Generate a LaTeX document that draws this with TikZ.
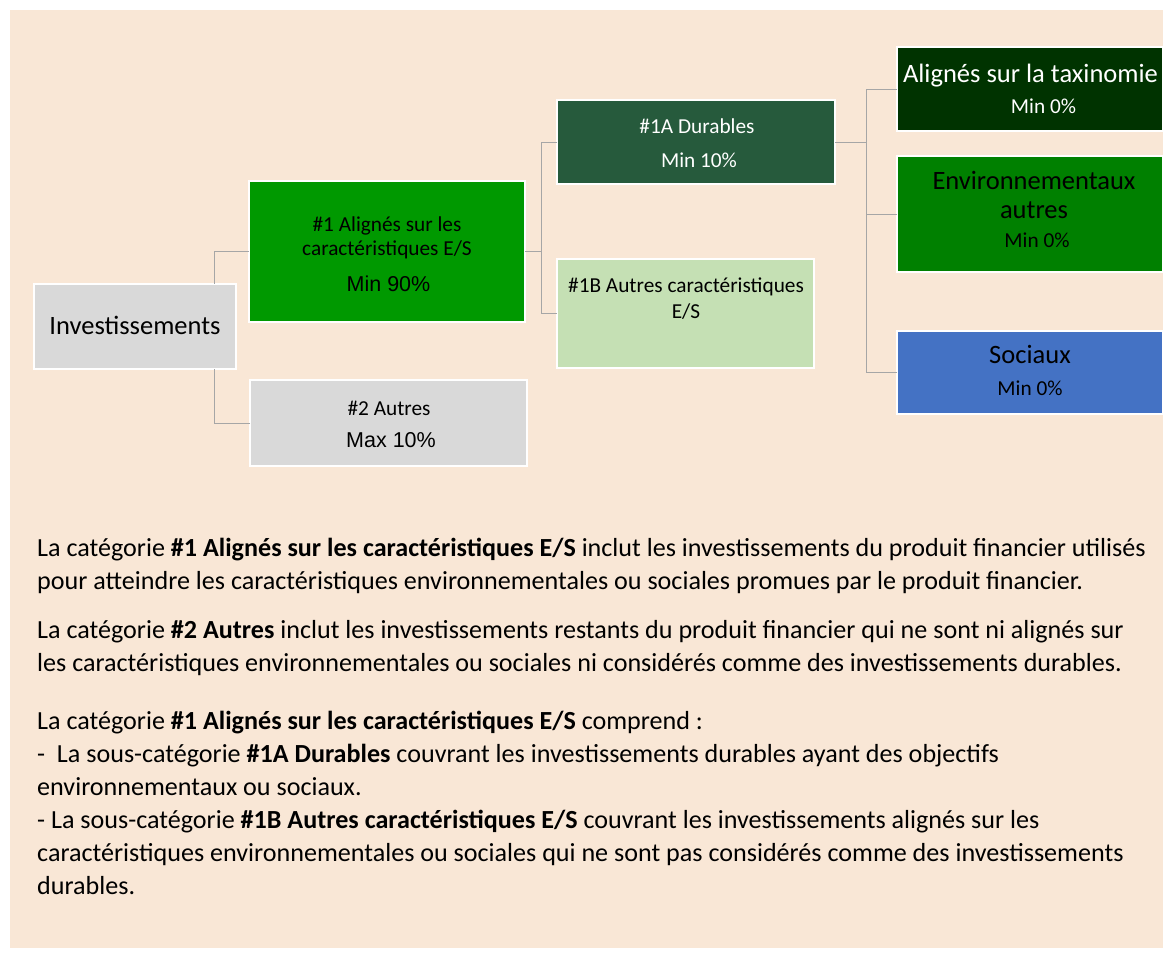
\documentclass[tikz,border=0pt]{standalone}
\usepackage{fontspec}
\setmainfont{Carlito}
\newfontfamily\arialf{Liberation Sans}
\definecolor{bg}{HTML}{F9E7D6}
\definecolor{grayb}{HTML}{D9D9D9}
\definecolor{greenA}{HTML}{009900}
\definecolor{darkg}{HTML}{265A3C}
\definecolor{lightg}{HTML}{C5E0B4}
\definecolor{vdark}{HTML}{003300}
\definecolor{envg}{HTML}{008000}
\definecolor{socb}{HTML}{4472C4}
\definecolor{connc}{HTML}{A6A6A6}
\begin{document}
\begin{tikzpicture}[x=1pt,y=-1pt,
  box/.style={draw=white,line width=2.5pt,rectangle,inner sep=0pt,outer sep=0pt},
  conn/.style={draw=connc,line width=1pt},
  lbl/.style={inner sep=0pt,anchor=base,font=\fontsize{21.3}{25}\selectfont},
  big/.style={inner sep=0pt,anchor=base,font=\fontsize{26.5}{32}\selectfont},
  pct/.style={inner sep=0pt,anchor=base,font=\arialf\fontsize{21.5}{25}\selectfont},
  para/.style={inner sep=0pt,anchor=base west,align=left,font=\fontsize{26.1}{33}\selectfont}]
\useasboundingbox (0,0) rectangle (1175,958);
\fill[bg] (10,10) rectangle (1163,948);
% boxes
\node[box,fill=grayb,minimum width=202pt,minimum height=85pt] (inv) at (135,326.5) {};
\node[box,fill=greenA,minimum width=276pt,minimum height=141pt] (a1) at (387,251.5) {};
\node[box,fill=grayb,minimum width=277pt,minimum height=86pt] (a2) at (388.5,423) {};
\node[box,fill=darkg,minimum width=278pt,minimum height=84pt] (a1a) at (696,142) {};
\node[box,fill=lightg,minimum width=257pt,minimum height=109pt] (a1b) at (685.5,313.5) {};
\node[box,fill=vdark,minimum width=266pt,minimum height=84pt] (tax) at (1030,89) {};
\node[box,fill=envg,minimum width=266pt,minimum height=116pt] (env) at (1030,214) {};
\node[box,fill=socb,minimum width=266pt,minimum height=83pt] (soc) at (1030,372.5) {};
% connectors
\draw[conn] (a1.west) -| ([xshift=79pt]inv.north);
\draw[conn] (a2.west) -| ([xshift=79pt]inv.south);
\draw[conn] (a1.east) -- ++(16,0) |- (a1a.west);
\draw[conn] (a1.east) -- ++(16,0) |- (a1b.west);
\draw[conn] (a1a.east) -- ++(31,0) |- (tax.west);
\draw[conn] (a1a.east) -- ++(31,0) |- (env.west);
\draw[conn] (a1a.east) -- ++(31,0) |- (soc.west);
% texts
\node[big] (tinv) at (135,334) {Investissements};
\node[lbl] (ta1l1) at (387,231) {\#1 Alignés sur les};
\node[lbl] (ta1l2) at (387,255) {caractéristiques E/S};
\node[pct] (ta1p) at (388.5,291) {Min 90\%};
\node[lbl] (ta2l1) at (389,415) {\#2 Autres};
\node[pct] (ta2p) at (391,447) {Max 10\%};
\node[lbl,text=white] (ta1al1) at (697,133) {\#1A Durables};
\node[lbl,text=white] (ta1ap) at (699,167) {Min 10\%};
\node[lbl] (ta1bl1) at (686,292) {\#1B Autres caractéristiques};
\node[lbl] (ta1bl2) at (686,318) {E/S};
\node[big,text=white] (ttax) at (1030.5,82) {\resizebox{255pt}{\height}{Alignés sur la taxinomie}};
\node[lbl,text=white] (ttaxp) at (1043.5,113) {Min 0\%};
\node[big] (tenv1) at (1034,189) {Environnementaux};
\node[big] (tenv2) at (1034,218) {autres};
\node[lbl] (tenvp) at (1037,247) {Min 0\%};
\node[big] (tsoc) at (1030,363) {Sociaux};
\node[lbl] (tsocp) at (1030,395) {Min 0\%};
% paragraphs
\node[para] (p1) at (37,589) {La catégorie \textbf{\#1 Alignés sur les caractéristiques E/S} inclut les investissements du produit financier utilisés\\pour atteindre les caractéristiques environnementales ou sociales promues par le produit financier.};
\node[para] (p2) at (37,671) {La catégorie \textbf{\#2 Autres} inclut les investissements restants du produit financier qui ne sont ni alignés sur\\les caractéristiques environnementales ou sociales ni considérés comme des investissements durables.};
\node[para] (p3) at (37,894) {La catégorie \textbf{\#1 Alignés sur les caractéristiques E/S} comprend :\\-\ \ La sous-catégorie \textbf{\#1A Durables} couvrant les investissements durables ayant des objectifs\\environnementaux ou sociaux.\\- La sous-catégorie \textbf{\#1B Autres caractéristiques E/S} couvrant les investissements alignés sur les\\caractéristiques environnementales ou sociales qui ne sont pas considérés comme des investissements\\durables.};
\end{tikzpicture}
\end{document}
